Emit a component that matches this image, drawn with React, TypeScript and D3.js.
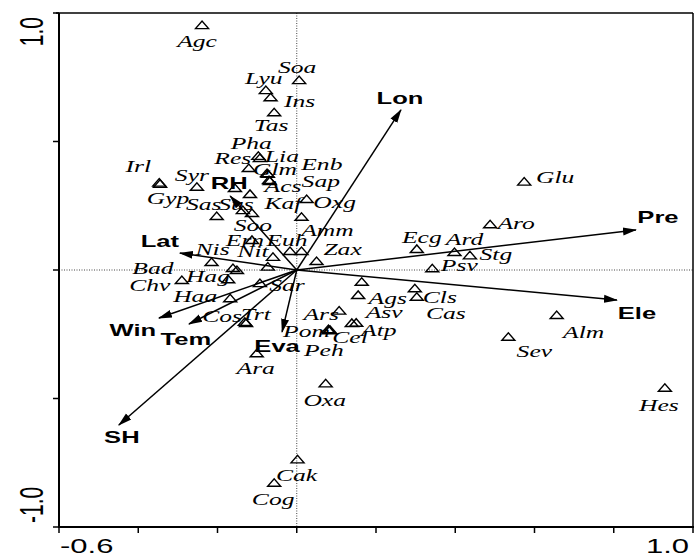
import React from "react";
import * as d3 from "d3";

// Species scores (axis 1, axis 2)
const speciesNames = [
  "Agc", "Soa", "Lyu", "Ins", "Tas", "Pha", "Lia", "Res", "Glm", "Enb", "Acs", "Sap",
  "Irl", "Gyp", "Syr", "Sus", "Kaf", "Sas", "Soo", "Oxg", "Amm", "Ern", "Euh", "Nit",
  "Nis", "Zax", "Bad", "Hag", "Chv", "Haa", "Sar", "Trt", "Cos", "Ara", "Ars", "Pom",
  "Cel", "Peh", "Atp", "Asv", "Ags", "Cls", "Cas", "Ecg", "Ard", "Stg", "Psv", "Aro",
  "Glu", "Alm", "Sev", "Hes", "Oxa", "Cak", "Cog",
];
const speciesAxis1 = [
  -0.239, 0.006, -0.078, -0.066, -0.057, -0.097, -0.093, -0.121, -0.075, -0.073, -0.070, -0.068,
  -0.347, -0.345, -0.252, -0.156, -0.118, -0.202, -0.136, 0.025, 0.012, -0.113, -0.017, -0.060,
  -0.215, 0.050, -0.161, -0.151, -0.290, -0.168, -0.093, -0.131, -0.128, -0.101, 0.107, 0.080,
  0.084, 0.081, 0.139, 0.155, 0.164, 0.298, 0.303, 0.303, 0.398, 0.437, 0.342, 0.488,
  0.574, 0.656, 0.534, 0.929, 0.073, 0.002, -0.057,
];
const speciesAxis2 = [
  0.953, 0.739, 0.700, 0.672, 0.614, 0.444, 0.436, 0.397, 0.377, 0.374, 0.350, 0.346,
  0.340, 0.335, 0.324, 0.319, 0.296, 0.210, 0.233, 0.276, 0.207, 0.117, 0.074, 0.051,
  0.031, 0.035, 0.008, 0.000, -0.039, -0.110, -0.051, -0.202, -0.206, -0.324, -0.158, -0.230,
  -0.233, -0.235, -0.206, -0.097, -0.046, -0.071, -0.104, 0.082, 0.070, 0.057, 0.007, 0.178,
  0.344, -0.175, -0.260, -0.458, -0.441, -0.737, -0.828,
];

// Species plotted without a printed name (overlapping neighbours)
const unnamedAxis1 = [-0.113, 0.012, -0.073, -0.173, 0.150];
const unnamedAxis2 = [0.222, 0.074, 0.013, -0.036, -0.205];

// Environmental variables (biplot arrows)
const envNames = ["Lon", "Pre", "Ele", "Lat", "RH", "Win", "Tem", "Eva", "SH"];
const envAxis1 = [0.263, 0.856, 0.808, -0.295, -0.168, -0.348, -0.272, -0.037, -0.449];
const envAxis2 = [0.623, 0.156, -0.117, 0.066, 0.288, -0.187, -0.210, -0.241, -0.603];

// Axis ticks
const xTicks = [-0.6, -0.4, -0.2, 0, 0.2, 0.4, 0.6, 0.8, 1.0];
const yTicks = [-1.0, -0.5, 0, 0.5, 1.0];
const xTickLabels = ["-0.6", "1.0"];
const yTickLabels = ["-1.0", "1.0"];

// Label placement (pixel offsets from the symbol)
const speciesLabelOffsets: [number, number][] = [
  [-5, 16], [-2, -13], [-2, -12], [29, 4], [-3, 13], [-7, -13], [22, -2], [-16, -10], [8, -4], [54, -10], [14, 6], [51, 0],
  [-21, -16], [8, 14], [-5, -12], [1, 16], [33, 9], [-13, -12], [10, 15], [28, 3], [26, 13], [-7, 0], [-3, -11], [-20, -6],
  [1, -13], [26, -12], [-80, 0], [-29, 6], [-32, 5], [-35, -2], [27, 2], [11, -8], [-24, -7], [-1, 15], [-18, 4], [-22, 2],
  [20, 7], [-5, 20], [27, 7], [26, 17], [26, 16], [25, 9], [29, 16], [5, -12], [10, -13], [26, -1], [27, -3], [26, -1],
  [31, -4], [27, 17], [26, 14], [-6, 18], [-1, 17], [-1, 16], [-1, 16],
];
const envLabelOffsets: [number, number][] = [
  [-1, -12], [22, -13], [20, 13], [-20, -12], [-1, -13], [-26, 12], [-3, 15], [-5, 14], [3, 12],
];

const W = 696;
const H = 557;
const LEFT = 59;
const RIGHT = 693;
const TOP = 13;
const BOTTOM = 527;
const STRETCH = 1.55;

const x = d3.scaleLinear().domain([-0.6, 1.0]).range([LEFT, RIGHT]);
const y = d3.scaleLinear().domain([-1.0, 1.0]).range([BOTTOM, TOP]);

const triangle = "M-6.5,3.5L6.5,3.5L0,-4Z";

function WideText(props: {
  x: number; y: number; text: string; size: number; family: string;
  weight?: string; italic?: boolean; anchor?: string; rotate?: number; dy?: string;
}) {
  const rot = props.rotate ? ` rotate(${props.rotate})` : "";
  return (
    <text
      transform={`translate(${props.x},${props.y}) scale(${STRETCH},1)${rot}`}
      fontFamily={props.family}
      fontSize={props.size}
      fontWeight={props.weight || "normal"}
      fontStyle={props.italic ? "italic" : "normal"}
      textAnchor={props.anchor || "middle"}
      dy={props.dy || "0.35em"}
      fill="#000"
    >
      {props.text}
    </text>
  );
}

export default function App() {
  const species = speciesNames.map((name, i) => ({
    name,
    a1: speciesAxis1[i],
    a2: speciesAxis2[i],
    off: speciesLabelOffsets[i],
  }));
  const unnamed = unnamedAxis1.map((a1, i) => ({ a1, a2: unnamedAxis2[i] }));
  const env = envNames.map((name, i) => ({
    name,
    a1: envAxis1[i],
    a2: envAxis2[i],
    off: envLabelOffsets[i],
  }));
  const ox = x(0);
  const oy = y(0);

  return (
    <svg
      width={W}
      height={H}
      style={{ position: "absolute", left: 0, top: 0, background: "#fff" }}
    >
      <defs>
        <marker
          id="head"
          markerUnits="userSpaceOnUse"
          viewBox="0 -5 14 10"
          refX={13}
          refY={0}
          markerWidth={14}
          markerHeight={10}
          orient="auto"
        >
          <path d="M0,-4L14,0L0,4Z" fill="#000" />
        </marker>
      </defs>

      {/* zero reference lines */}
      <line x1={ox} x2={ox} y1={TOP} y2={BOTTOM} stroke="#444" strokeWidth={1} strokeDasharray="1,1.5" />
      <line x1={LEFT} x2={RIGHT} y1={oy} y2={oy} stroke="#444" strokeWidth={1} strokeDasharray="1,1.5" />

      {/* frame */}
      <line x1={LEFT - 3} x2={RIGHT} y1={TOP} y2={TOP} stroke="#000" strokeWidth={1.5} />
      <line x1={RIGHT} x2={RIGHT} y1={TOP} y2={BOTTOM} stroke="#000" strokeWidth={1.5} />
      <line x1={LEFT} x2={LEFT} y1={TOP} y2={BOTTOM + 1} stroke="#000" strokeWidth={2} />
      <line x1={LEFT - 1} x2={RIGHT + 1} y1={BOTTOM} y2={BOTTOM} stroke="#000" strokeWidth={2} />

      {xTicks.map((t) => (
        <line key={"xt" + t} x1={x(t)} x2={x(t)} y1={BOTTOM} y2={BOTTOM + 6} stroke="#000" strokeWidth={1.5} />
      ))}
      {yTicks.map((t) => (
        <line key={"yt" + t} x1={LEFT - 6} x2={LEFT} y1={y(t)} y2={y(t)} stroke="#000" strokeWidth={1.5} />
      ))}

      <WideText x={x(-0.6) + 1} y={553} text={xTickLabels[0]} size={20} family="Liberation Sans, Arial, sans-serif" anchor="start" dy="0" />
      <WideText x={x(1.0) - 4} y={553} text={xTickLabels[1]} size={20} family="Liberation Sans, Arial, sans-serif" anchor="end" dy="0" />
      <WideText x={43} y={y(-1.0) - 4} text={yTickLabels[0]} size={21} family="Liberation Sans, Arial, sans-serif" anchor="start" rotate={-90} dy="0" />
      <WideText x={43} y={y(1.0) + 4} text={yTickLabels[1]} size={21} family="Liberation Sans, Arial, sans-serif" anchor="end" rotate={-90} dy="0" />

      {/* environmental arrows */}
      {env.map((e) => (
        <line
          key={"arrow" + e.name}
          x1={ox}
          y1={oy}
          x2={x(e.a1)}
          y2={y(e.a2)}
          stroke="#000"
          strokeWidth={1.5}
          markerEnd="url(#head)"
        />
      ))}

      {/* species symbols */}
      {species.map((s) => (
        <path
          key={"tri" + s.name}
          d={triangle}
          transform={`translate(${x(s.a1)},${y(s.a2)})`}
          fill="none"
          stroke="#000"
          strokeWidth={1.4}
        />
      ))}
      {unnamed.map((s, i) => (
        <path
          key={"utri" + i}
          d={triangle}
          transform={`translate(${x(s.a1)},${y(s.a2)})`}
          fill="none"
          stroke="#000"
          strokeWidth={1.4}
        />
      ))}

      {/* species labels */}
      {species.map((s) => (
        <WideText
          key={"lab" + s.name}
          x={x(s.a1) + s.off[0]}
          y={y(s.a2) + s.off[1]}
          text={s.name}
          size={16.5}
          family="Liberation Serif, Times New Roman, serif"
          italic
        />
      ))}

      {/* variable labels */}
      {env.map((e) => (
        <WideText
          key={"elab" + e.name}
          x={x(e.a1) + e.off[0]}
          y={y(e.a2) + e.off[1]}
          text={e.name}
          size={16.5}
          family="Liberation Sans, Arial, sans-serif"
          weight="bold"
        />
      ))}
    </svg>
  );
}
